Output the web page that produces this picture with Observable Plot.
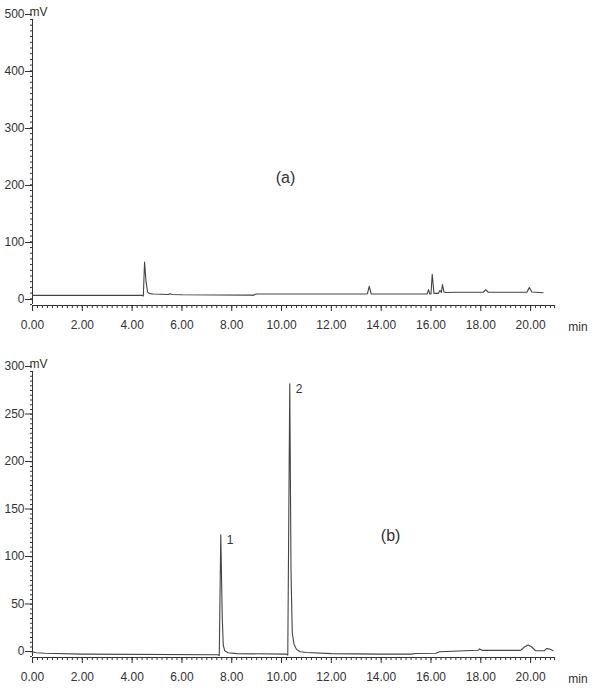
<!DOCTYPE html>
<html>
<head>
<meta charset="utf-8">
<script src="https://cdn.jsdelivr.net/npm/d3@7"></script>
<script src="https://cdn.jsdelivr.net/npm/@observablehq/plot@0.6"></script>
<style>
  html, body { margin: 0; padding: 0; background: #fff; }
  #chart svg { display: block; }
</style>
</head>
<body>
<div id="chart"></div>
<script>
// ---- Data: chromatogram (a) ----
const timeA = [0, 4.40, 4.45, 4.50, 4.56, 4.62, 4.70, 4.85, 5.2, 5.45, 5.52, 5.6, 6.0, 8.8, 8.85, 9.0, 13.4, 13.45, 13.52, 13.6, 15.85, 15.9, 15.95, 16.0, 16.05, 16.12, 16.3, 16.36, 16.42, 16.46, 16.52, 16.6, 17.0, 18.1, 18.2, 18.3, 19.85, 19.95, 20.05, 20.5];
const mvA   = [16, 16, 15, 74.5, 40, 22, 19, 18.5, 18, 17.5, 19, 17.5, 17, 16.5, 16, 18.5, 18.5, 19, 32, 18.5, 18.5, 26, 18.5, 18.5, 53, 19.5, 19.5, 25, 21, 35, 22, 21, 21.5, 21.5, 26, 21.5, 21.5, 30, 22, 20.5];

// ---- Data: chromatogram (b) ----
const timeB = [0, 0.15, 0.5, 2.0, 7.45, 7.50, 7.56, 7.62, 7.66, 7.72, 7.85, 8.2, 10.2, 10.25, 10.33, 10.38, 10.43, 10.5, 10.6, 10.75, 11.0, 12.0, 14.0, 15.2, 15.4, 16.2, 16.35, 17.9, 17.95, 18.05, 19.6, 19.75, 19.9, 20.05, 20.2, 20.55, 20.65, 20.8, 20.9];
const mvB   = [5, 4, 3.5, 2.5, 1.8, 1, 128, 40, 12, 6, 4, 3, 2.5, 1.5, 287, 90, 25, 13, 7.5, 5, 4.2, 3, 2.5, 2.5, 3.2, 3.5, 5, 6.5, 8, 6.5, 6.5, 10, 12, 10, 6, 6, 8.5, 7.5, 6];

// ---- Peak labels (b) ----
const peakTimes = [7.56, 10.33];
const peakHeights = [128, 287];
const peakNames = ["1", "2"];

// ---- Axis tick labels ----
const xTicks = [0, 2, 4, 6, 8, 10, 12, 14, 16, 18, 20];
const yTicksA = [0, 100, 200, 300, 400, 500];
const yTicksB = [0, 50, 100, 150, 200, 250, 300];
const panelLabels = ["(a)", "(b)"];

const dataA = timeA.map((t, i) => ({t, v: mvA[i]}));
const dataB = timeB.map((t, i) => ({t, v: mvB[i]}));
const peaks = peakTimes.map((t, i) => ({t, v: peakHeights[i], name: peakNames[i]}));

const lineColor = "#444";
const textColor = "#333";
const xEnd = 20.96;
const xMinor = d3.range(0, 20.9, 0.2).concat([xEnd]);

function panel({yMax, yTicks, yMinorStep, data, label, labelPos, marginTop, marginBottom, peakData}) {
  const yMinor = d3.range(0, yMax + 0.001, yMinorStep);
  const marks = [
    // axis lines
    Plot.ruleX([0], {y1: 0, y2: yMax, stroke: textColor, strokeWidth: 1}),
    Plot.ruleY([0], {x1: 0, x2: xEnd, stroke: textColor, strokeWidth: 1, dy: 1}),
    // x axis
    Plot.axisX({ticks: xMinor, tickSize: 3, tickFormat: () => "", label: null, stroke: textColor, dy: 1}),
    Plot.axisX({ticks: xTicks, tickSize: 6, tickPadding: 9, tickFormat: d => d.toFixed(2), label: null,
                stroke: textColor, fill: textColor, fontSize: 12, dy: 1}),
    // y axis
    Plot.axisY({ticks: yMinor, tickSize: 2, tickFormat: () => "", label: null, stroke: textColor}),
    Plot.axisY({ticks: yTicks, tickSize: 7, tickPadding: 1, label: null, stroke: textColor, fill: textColor,
                fontSize: 12, dy: -5}),
    // unit labels
    Plot.text(["mV"], {x: 0, y: yMax, text: d => d, textAnchor: "start", dx: -3, dy: -7, fontSize: 12, fill: textColor}),
    Plot.text(["min"], {x: 21.9, y: 0, text: d => d, dy: 23, fontSize: 12, fill: textColor}),
    // trace
    Plot.line(data, {x: "t", y: "v", stroke: lineColor, strokeWidth: 1.1}),
    // panel label
    Plot.text([label], {x: labelPos[0], y: labelPos[1], text: d => d, fontSize: 16, fill: textColor})
  ];
  if (peakData) {
    marks.push(Plot.text(peakData, {x: "t", y: "v", text: "name", textAnchor: "start", dx: 6, dy: 5, fontSize: 12, fill: textColor}));
  }
  return Plot.plot({
    width: 594,
    height: 345,
    marginLeft: 32,
    marginRight: 39,
    marginTop,
    marginBottom,
    x: {domain: [0, 21]},
    y: {domain: [0, yMax]},
    style: {fontFamily: "'Liberation Sans', Arial, sans-serif", fontSize: "12px", color: textColor, background: "white", overflow: "visible"},
    marks
  });
}

const chart = document.getElementById("chart");
chart.append(panel({yMax: 500, yTicks: yTicksA, yMinorStep: 10, data: dataA, label: panelLabels[0], labelPos: [10.16, 222], marginTop: 19, marginBottom: 41}));
chart.append(panel({yMax: 300, yTicks: yTicksB, yMinorStep: 5, data: dataB, label: panelLabels[1], labelPos: [14.38, 127], marginTop: 26, marginBottom: 34, peakData: peaks}));
</script>
</body>
</html>
